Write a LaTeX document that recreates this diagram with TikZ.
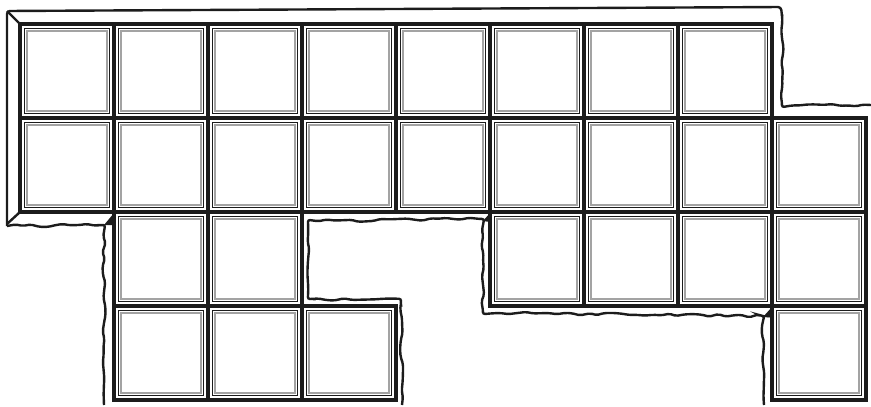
\documentclass[tikz,border=0pt]{standalone}
\usetikzlibrary{decorations.pathmorphing}
\definecolor{ink}{HTML}{1C1C1C}
\definecolor{shade}{HTML}{A3A3A3}
\begin{document}
\begin{tikzpicture}[x=1pt,y=-1pt,tile/.style={draw=ink,line width=3.2pt},glaze/.style={draw=shade,line width=1.8pt},rim/.style={draw=ink,line width=1pt},frame/.style={draw=ink,line width=2.4pt,line join=round},crack/.style={draw=ink,line width=2.4pt,rounded corners=2pt,decorate,decoration={random steps,segment length=8pt,amplitude=1.5pt}}]
\pgfmathsetseed{7}
\useasboundingbox (0,0) rectangle (871,407);
% tiles, row by row
\foreach \r/\cols in {0/{0,...,7},1/{0,...,8},2/{1,2,5,6,7,8},3/{1,2,3,8}}
 \foreach \c in \cols {
  \draw[tile] (20+94*\c,24+94*\r) rectangle ++(94,94);
  \draw[rim] (24.5+94*\c,28.5+94*\r) rectangle ++(85,85);
  \draw[glaze] (27+94*\c,31+94*\r) rectangle ++(80,80);
 }
% straight frame on top and left
\draw[frame,rounded corners=3pt] (7,226) -- (7,11) -- (781,7) -- (782,16);
\draw[frame] (7,11) -- (20,24);
\draw[frame] (7,224) -- (20,212);
% broken edges
\draw[crack] (782,14) -- (782,106) -- (871,105);
\draw[crack] (7,226) -- (104,225) -- (104,405);
\draw[crack] (402,405) -- (401,300) -- (309,299) -- (308,221) -- (483,219) -- (483,313) -- (763,316) -- (764,405);
\fill[ink] (104,225) -- (114,213) -- (114,225) -- cycle;
\fill[ink] (483,221) -- (490,213) -- (490,222) -- cycle;
\fill[ink] (763,317) -- (772,307) -- (772,317) -- cycle;
\end{tikzpicture}
\end{document}
